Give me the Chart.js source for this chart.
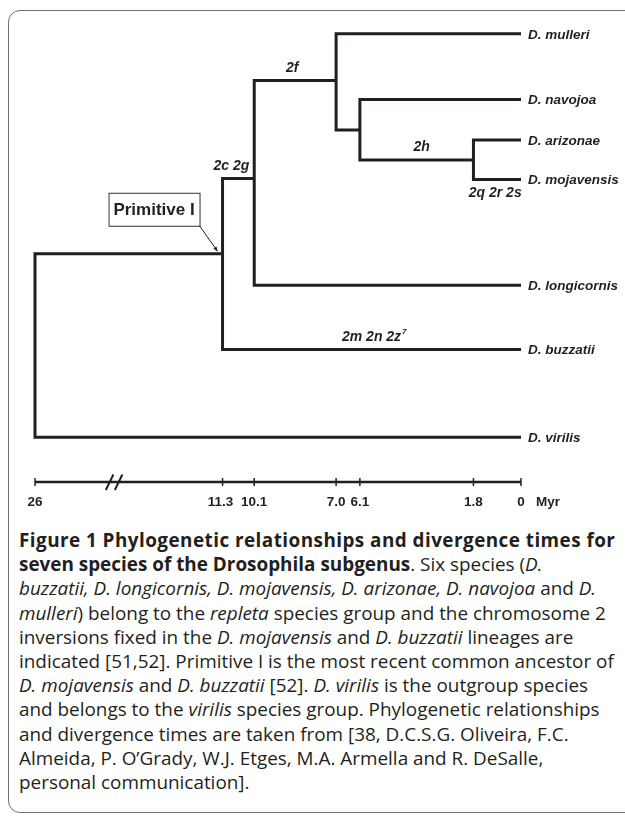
<!DOCTYPE html>
<html><head><meta charset="utf-8">
<script src="https://cdn.jsdelivr.net/npm/chart.js@4.4.1/dist/chart.umd.min.js"></script>
<style>
html,body{margin:0;padding:0;background:#fff;width:625px;height:817px;overflow:hidden;}
#frame{position:absolute;left:8px;top:10px;width:720px;height:803px;border:1.5px solid #707070;border-radius:12px;box-sizing:border-box;}
#wrap{position:absolute;left:0;top:0;width:625px;height:520px;}
#caption{position:absolute;left:19px;top:528px;font-family:"Open Sans",sans-serif;font-size:18.9px;line-height:24.2px;color:#231f20;white-space:nowrap;}
#caption b{font-weight:700}
#caption .l1{letter-spacing:0.45px}
</style></head><body>
<div id="frame"></div>
<div id="wrap"><canvas id="c" width="625" height="520"></canvas></div>
<div id="caption"><b class="l1">Figure 1 Phylogenetic relationships and divergence times for</b><br><b>seven species of the Drosophila subgenus</b>. Six species (<i>D.</i><br><i>buzzatii, D. longicornis, D. mojavensis, D. arizonae, D. navojoa</i> and <i>D.</i><br><i>mulleri</i>) belong to the <i>repleta</i> species group and the chromosome 2<br>inversions fixed in the <i>D. mojavensis</i> and <i>D. buzzatii</i> lineages are<br>indicated [51,52]. Primitive I is the most recent common ancestor of<br><i>D. mojavensis</i> and <i>D. buzzatii</i> [52]. <i>D. virilis</i> is the outgroup species<br>and belongs to the <i>virilis</i> species group. Phylogenetic relationships<br>and divergence times are taken from [38, D.C.S.G. Oliveira, F.C.<br>Almeida, P. O’Grady, W.J. Etges, M.A. Armella and R. DeSalle,<br>personal communication].</div>
<script>
// ---- data ----
const tipNames = ['D. mulleri','D. navojoa','D. arizonae','D. mojavensis','D. longicornis','D. buzzatii','D. virilis'];
const tipLevels = [3.0, 17.2, 26.0, 34.5, 57.4, 71.3, 90.3];
const nodeIds = ['root','primitiveI','n10','n7','n6','n2'];
const nodeAges = [26, 11.3, 10.1, 7.0, 6.1, 1.8];
const nodeLevels = [50.6, 50.6, 34.3, 13.1, 23.8, 30.3];
const nodeChildren = [['primitiveI','D. virilis'],['n10','D. buzzatii'],['n7','D. longicornis'],['D. mulleri','n6'],['D. navojoa','n2'],['D. arizonae','D. mojavensis']];
const axisTickAges = [26, 11.3, 10.1, 7.0, 6.1, 1.8, 0];
const axisTickLabels = ['26','11.3','10.1','7.0','6.1','1.8','0'];
const axisUnit = 'Myr';
const branchLabelText = ['2c 2g','2f','2h','2q 2r 2s','2m 2n 2z'];
const branchLabelSup = ['','','','','7'];
const branchLabelTarget = ['n10','n7','n2','D. mojavensis','D. buzzatii'];
const ancestorLabel = 'Primitive I';
const ancestorNode = 'primitiveI';

// ---- axis break transform ----
const BREAK_AT = 11.3, BREAK_FACTOR = 0.483, BREAK_MARK = 19.8;
function pos(age){ return age <= BREAK_AT ? age : BREAK_AT + (age - BREAK_AT) * BREAK_FACTOR; }
const X_MAX = pos(26);
const INK = '#231f20';

function info(id){
  const t = tipNames.indexOf(id);
  if (t >= 0) return {age:0, level:tipLevels[t], tip:true};
  const n = nodeIds.indexOf(id);
  return {age:nodeAges[n], level:nodeLevels[n], tip:false};
}
function parentOf(id){
  for (let i=0;i<nodeChildren.length;i++) if (nodeChildren[i].includes(id)) return nodeIds[i];
  return null;
}

const datasets = nodeIds.map((id, i) => {
  const a = info(nodeChildren[i][0]), b = info(nodeChildren[i][1]);
  const x = pos(nodeAges[i]);
  return {
    data:[{x:pos(a.age),y:a.level},{x:x,y:a.level},{x:x,y:b.level},{x:pos(b.age),y:b.level}],
    borderColor:INK, borderWidth:3, showLine:true, pointRadius:0, fill:false, clip:false,
    borderJoinStyle:'miter', borderCapStyle:'butt', tension:0
  };
});
datasets.push({
  data:[{x:0,y:100},{x:X_MAX,y:100}],
  borderColor:INK, borderWidth:2.5, showLine:true, pointRadius:0, fill:false, clip:false, borderCapStyle:'butt'
});

const overlay = {
  id:'overlay',
  afterDatasetsDraw(chart){
    const ctx = chart.ctx, xs = chart.scales.x, ys = chart.scales.y;
    ctx.save();
    ctx.fillStyle = INK; ctx.strokeStyle = INK;
    // axis ticks and labels
    const ay = ys.getPixelForValue(100);
    ctx.lineWidth = 1.5;
    ctx.font = 'bold 13.5px "Liberation Sans", Arial, sans-serif';
    ctx.textAlign = 'center'; ctx.textBaseline = 'alphabetic';
    axisTickAges.forEach((a,i)=>{
      const px = xs.getPixelForValue(pos(a));
      ctx.beginPath(); ctx.moveTo(px, ay-4); ctx.lineTo(px, ay+4); ctx.stroke();
      ctx.fillText(axisTickLabels[i], px + (i===1 ? -2 : 0), ay+24);
    });
    ctx.textAlign = 'left';
    ctx.fillText(axisUnit, xs.getPixelForValue(0)+15, ay+24);
    // break mark
    const bx = xs.getPixelForValue(pos(BREAK_MARK));
    ctx.lineWidth = 2;
    [-4.5, 4.5].forEach(d=>{
      ctx.beginPath(); ctx.moveTo(bx+d-3.8, ay+8); ctx.lineTo(bx+d+3.8, ay-7.5); ctx.stroke();
    });
    // tip labels
    ctx.font = 'italic bold 13.5px "Liberation Sans", Arial, sans-serif';
    ctx.textAlign = 'left'; ctx.textBaseline = 'alphabetic';
    tipNames.forEach((n,i)=>{
      ctx.fillText(n, xs.getPixelForValue(0)+7, ys.getPixelForValue(tipLevels[i])+4.8);
    });
    // branch labels
    const shift = {'2c 2g':-7,'2f':-3,'2h':5,'2q 2r 2s':-2,'2m 2n 2z':2};
    branchLabelText.forEach((t,i)=>{
      const c = info(branchLabelTarget[i]);
      const p = info(parentOf(branchLabelTarget[i]));
      const x0 = xs.getPixelForValue(pos(p.age)), x1 = xs.getPixelForValue(pos(c.age));
      const ly = ys.getPixelForValue(c.level);
      const below = t === '2q 2r 2s';
      const cx = (x0+x1)/2 + (shift[t]||0);
      const by = below ? ly + 17.5 : ly - 8.5;
      ctx.font = 'italic bold 14px "Liberation Sans", Arial, sans-serif';
      const w = ctx.measureText(t).width;
      ctx.font = 'italic bold 8px "Liberation Sans", Arial, sans-serif';
      const ws = branchLabelSup[i] ? ctx.measureText(branchLabelSup[i]).width : 0;
      const sx = cx - (w+ws)/2;
      ctx.font = 'italic bold 14px "Liberation Sans", Arial, sans-serif';
      ctx.textAlign = 'left';
      ctx.fillText(t, sx, by);
      if (branchLabelSup[i]) {
        ctx.font = 'italic bold 8px "Liberation Sans", Arial, sans-serif';
        ctx.fillText(branchLabelSup[i], sx + w + 1, by - 7);
      }
    });
    // ancestor box
    const an = info(ancestorNode);
    const nx = xs.getPixelForValue(pos(an.age)), ny = ys.getPixelForValue(an.level);
    const bR = nx - 23, bB = ny - 28, bw = 91, bh = 33;
    ctx.fillStyle = '#fff';
    ctx.fillRect(bR-bw, bB-bh, bw, bh);
    ctx.strokeStyle = '#333'; ctx.lineWidth = 1;
    ctx.strokeRect(bR-bw+0.5, bB-bh+0.5, bw, bh);
    ctx.fillStyle = INK;
    ctx.font = 'bold 17px "Liberation Sans", Arial, sans-serif';
    ctx.textAlign = 'center'; ctx.textBaseline = 'alphabetic';
    ctx.fillText(ancestorLabel, bR - bw/2, bB - bh + 22);
    // arrow
    const ax0 = bR, ay0 = bB, ax1 = nx - 5, ay1 = ny - 2.5;
    ctx.strokeStyle = INK; ctx.lineWidth = 1;
    ctx.beginPath(); ctx.moveTo(ax0, ay0); ctx.lineTo(ax1, ay1); ctx.stroke();
    const ang = Math.atan2(ay1-ay0, ax1-ax0);
    ctx.beginPath();
    ctx.moveTo(ax1, ay1);
    ctx.lineTo(ax1 - 5*Math.cos(ang-0.4), ay1 - 5*Math.sin(ang-0.4));
    ctx.lineTo(ax1 - 5*Math.cos(ang+0.4), ay1 - 5*Math.sin(ang+0.4));
    ctx.closePath(); ctx.fill();
    ctx.restore();
  }
};

new Chart(document.getElementById('c'), {
  type:'scatter',
  data:{datasets},
  options:{
    responsive:false, animation:false, devicePixelRatio:1, events:[],
    layout:{padding:{left:35, right:104, top:20, bottom:38}},
    scales:{
      x:{type:'linear', reverse:true, min:0, max:X_MAX, display:false},
      y:{type:'linear', reverse:true, min:0, max:100, display:false}
    },
    plugins:{legend:{display:false}, tooltip:{enabled:false}}
  },
  plugins:[overlay]
});
</script>
</body></html>
